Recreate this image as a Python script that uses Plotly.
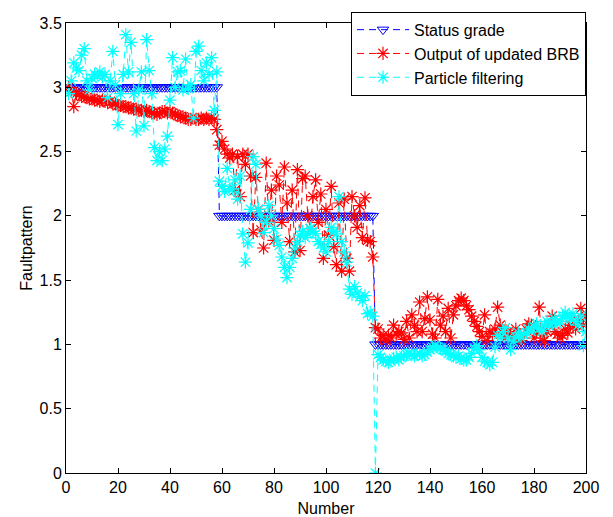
import plotly.graph_objects as go

x_values = list(range(1, 201))

status_grade = [3.0] * 58 + [2.0] * 60 + [1.0] * 82

brb_output = [
    # 1-58
    3.00, 2.97, 2.85, 2.95, 2.94, 2.93, 2.93, 2.92, 2.91, 2.91,
    2.90, 2.90, 2.89, 2.90, 2.89, 2.88, 2.89, 2.87, 2.87, 2.86,
    2.86, 2.85, 2.85, 2.84, 2.84, 2.83, 2.83, 2.82, 2.82, 2.81,
    2.82, 2.81, 2.80, 2.80, 2.79, 2.80, 2.81, 2.81, 2.80, 2.81,
    2.80, 2.79, 2.78, 2.77, 2.77, 2.76, 2.75, 2.75, 2.76, 2.75,
    2.75, 2.76, 2.75, 2.76, 2.75, 2.76, 2.75, 2.67,
    # 59-118
    2.55, 2.58, 2.52, 2.48, 2.45, 2.48, 2.20, 2.46, 2.15, 2.48,
    2.40, 2.48, 2.31, 1.87, 2.30, 2.05, 1.89, 1.75, 2.41, 1.96,
    2.20, 1.81, 2.31, 2.24, 1.95, 2.38, 2.10, 1.80, 2.20, 1.72,
    2.36, 1.73, 2.29, 2.31, 2.00, 1.90, 2.15, 2.28, 1.95, 2.17,
    1.67, 2.05, 1.85, 2.23, 1.76, 1.62, 2.10, 1.57, 2.13, 1.67,
    1.57, 2.15, 2.00, 1.91, 2.08, 1.83, 2.14, 1.81, 1.80, 1.68,
    # 119-200
    1.13, 1.12, 1.05, 1.07, 1.03, 1.07, 1.05, 1.15, 1.08, 1.10,
    1.09, 1.04, 1.18, 1.05, 1.23, 1.15, 1.10, 1.33, 1.10, 1.20,
    1.37, 1.19, 1.08, 1.05, 1.35, 1.15, 1.22, 1.10, 1.28, 1.05,
    1.23, 1.30, 1.34, 1.36, 1.34, 1.30, 1.27, 1.22, 1.18, 1.14,
    1.10, 1.06, 1.23, 1.03, 1.10, 1.08, 1.12, 1.29, 1.15, 1.09,
    1.05, 1.10, 1.08, 1.05, 1.12, 1.05, 1.03, 1.08, 1.12, 1.16,
    1.15, 1.05, 1.10, 1.29, 1.05, 1.03, 1.10, 1.15, 1.22, 1.10,
    1.08, 1.05, 1.07, 1.12, 1.09, 1.15, 1.15, 1.12, 1.18, 1.28,
    1.15, 1.22,
]

particle_filter = [
    # 1-58
    2.95, 3.05, 3.19, 3.15, 3.13, 3.25, 3.30, 3.05, 2.98, 3.07,
    3.10, 3.09, 3.12, 3.08, 3.10, 2.92, 3.05, 3.28, 3.02, 2.71,
    2.95, 3.10, 3.41, 3.12, 3.35, 2.95, 2.66, 2.98, 3.12, 2.70,
    3.37, 3.13, 2.95, 2.53, 2.43, 2.50, 2.43, 2.52, 2.62, 2.90,
    3.23, 3.00, 3.12, 3.13, 2.98, 3.22, 2.99, 3.02, 2.76, 3.28,
    3.32, 3.13, 3.05, 3.19, 3.10, 3.23, 2.82, 3.12,
    # 59-118
    2.27, 2.23, 2.19, 2.37, 2.21, 2.21, 2.28, 2.13, 2.31, 1.86,
    1.64, 1.79, 2.05, 2.46, 2.40, 2.05, 2.00, 1.87, 1.95, 2.08,
    2.00, 1.90, 1.82, 1.77, 1.68, 1.60, 1.52, 1.60, 1.67, 1.75,
    1.80, 1.85, 1.88, 1.83, 1.86, 1.90, 1.88, 1.86, 1.80, 1.78,
    1.75, 1.72, 1.80, 1.91, 1.88, 1.86, 2.15, 1.80, 1.72, 1.64,
    1.43, 1.39, 1.45, 1.40, 1.37, 1.34, 1.38, 1.24, 1.25, 1.22,
    # 119-200
    0.00, 0.92, 0.90, 0.88, 0.87, 0.86, 0.87, 0.89, 0.90, 0.88,
    0.90, 0.91, 0.92, 0.93, 0.92, 0.91, 0.92, 0.93, 0.91, 0.92,
    0.94, 0.96, 0.98, 0.99, 0.98, 0.97, 0.96, 0.95, 0.93, 0.92,
    0.91, 0.90, 0.91, 0.89, 0.88, 0.88, 0.90, 0.93, 0.97, 0.99,
    0.96, 0.90, 0.87, 0.86, 0.84, 0.86, 0.98, 1.07, 1.05, 1.10,
    1.13, 1.05, 0.96, 1.02, 1.06, 1.09, 1.05, 1.08, 1.09, 1.12,
    1.10, 1.14, 1.16, 1.12, 1.10, 1.15, 1.18, 1.14, 1.17, 1.20,
    1.16, 1.18, 1.22, 1.25, 1.22, 1.20, 1.24, 1.18, 1.15, 1.22,
    0.99, 1.10,
]

x_ticks = [0, 20, 40, 60, 80, 100, 120, 140, 160, 180, 200]
y_ticks = [0, 0.5, 1, 1.5, 2, 2.5, 3, 3.5]

FONT = "Liberation Sans, Arial, sans-serif"
FS = 16

fig = go.Figure()
fig.add_trace(go.Scatter(
    x=x_values, y=status_grade, name="Status grade", mode="lines+markers",
    line=dict(color="rgb(0,0,255)", width=1, dash="7px,5px"),
    marker=dict(symbol="triangle-down-open", size=10, color="rgb(0,0,255)",
                line=dict(color="rgb(0,0,255)", width=1)),
))
fig.add_trace(go.Scatter(
    x=x_values, y=brb_output, name="Output of updated BRB", mode="lines+markers",
    line=dict(color="rgb(255,0,0)", width=1, dash="7px,5px"),
    marker=dict(symbol="asterisk-open", size=11, color="rgb(255,0,0)",
                line=dict(color="rgb(255,0,0)", width=1.2)),
))
fig.add_trace(go.Scatter(
    x=x_values, y=particle_filter, name="Particle filtering", mode="lines+markers",
    line=dict(color="rgb(0,255,255)", width=1, dash="7px,5px"),
    marker=dict(symbol="asterisk-open", size=11, color="rgb(0,255,255)",
                line=dict(color="rgb(0,255,255)", width=1.2)),
))

axis_common = dict(
    showgrid=False, zeroline=False, showline=True, linecolor="black", linewidth=1,
    mirror="ticks", ticks="inside", ticklen=5, tickcolor="black",
    tickfont=dict(family=FONT, size=FS, color="black"),
    automargin=False,
)

fig.update_layout(
    width=613, height=517,
    margin=dict(l=66, r=27, t=13, b=44),
    paper_bgcolor="white", plot_bgcolor="white",
    font=dict(family=FONT, size=FS, color="black"),
    xaxis=dict(range=[0, 200], tickvals=x_ticks, ticklabelstandoff=0,
               title=dict(text="Number", font=dict(family=FONT, size=FS), standoff=11),
               **axis_common),
    yaxis=dict(range=[0, 3.5], tickvals=y_ticks,
               title=dict(text="Faultpattern", font=dict(family=FONT, size=FS), standoff=2),
               **axis_common),
    legend=dict(x=1, xanchor="right", y=1.025, yanchor="top",
                bgcolor="white", bordercolor="black", borderwidth=1,
                font=dict(family=FONT, size=FS, color="black"),
                itemwidth=52, tracegroupgap=0),
    showlegend=True,
)

fig.write_html("out.html")
